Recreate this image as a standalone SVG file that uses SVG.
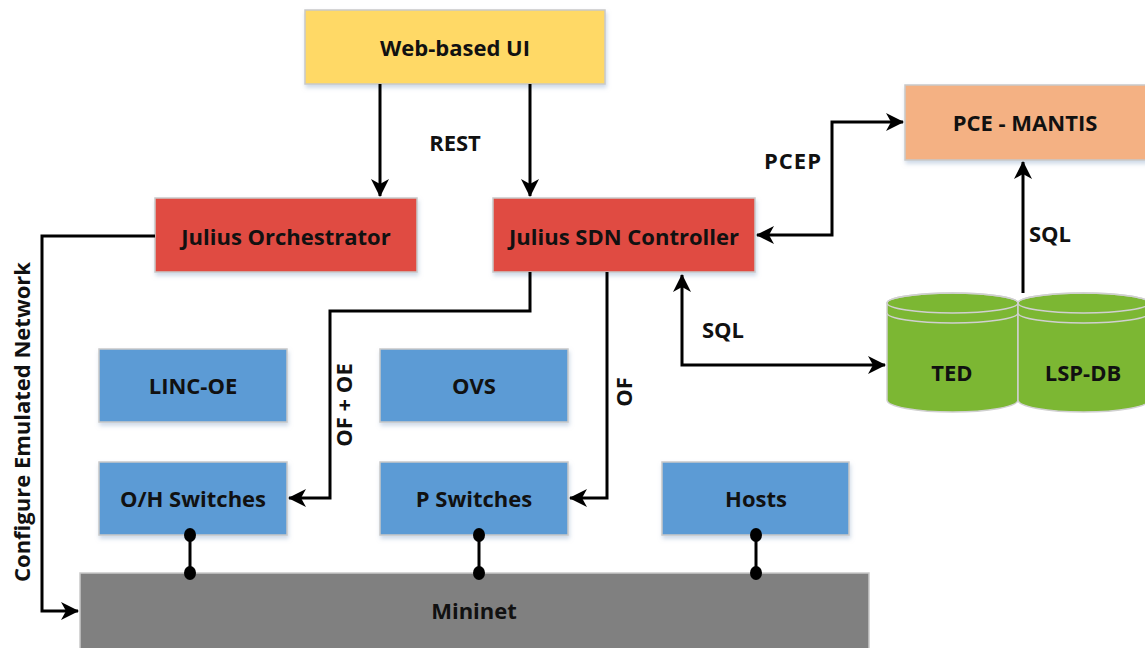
<svg xmlns="http://www.w3.org/2000/svg" width="1145" height="648" viewBox="0 0 1145 648">
<defs>
<style>
.box{stroke:#C9C9C9;stroke-width:1.5}
.yellow{fill:#FFD966}
.red{fill:#E04C42}
.orange{fill:#F4B183}
.blue{fill:#5B9BD5}
.gray{fill:#808080}
.green{fill:#7CB733;stroke:#D0D0D0;stroke-width:1.5}
.t{font-family:"Open Sans","Liberation Sans",Arial,sans-serif;font-weight:bold;font-size:22px;fill:#111;text-anchor:middle;dominant-baseline:central}
.c{fill:none;stroke:#000;stroke-width:3}
</style>
<marker id="ah" viewBox="0 0 18 18" refX="17" refY="9" markerWidth="18" markerHeight="18" markerUnits="userSpaceOnUse" orient="auto-start-reverse">
<path d="M0,0 L18,9 L0,18 L5,9 Z" fill="#000"/>
</marker>
<filter id="sh" x="-5%" y="-5%" width="115%" height="125%">
<feDropShadow dx="1" dy="3" stdDeviation="2" flood-color="#9DB4D0" flood-opacity="0.5"/>
</filter>
</defs>
<rect width="1145" height="648" fill="#fff"/>

<g id="web-ui"><rect class="box yellow" x="305" y="10" width="300" height="74" filter="url(#sh)"/><text class="t" x="455" y="47">Web-based UI</text></g>
<g id="orchestrator"><rect class="box red" x="155" y="198" width="262" height="74" filter="url(#sh)"/><text class="t" x="286" y="236">Julius Orchestrator</text></g>
<g id="sdn-controller"><rect class="box red" x="493" y="198" width="262" height="74" filter="url(#sh)"/><text class="t" x="624" y="236">Julius SDN Controller</text></g>
<g id="pce"><rect class="box orange" x="905" y="85" width="245" height="75" filter="url(#sh)"/><text class="t" x="1025" y="122">PCE - MANTIS</text></g>
<g id="linc-oe"><rect class="box blue" x="99" y="349" width="188" height="73" filter="url(#sh)"/><text class="t" x="193" y="385">LINC-OE</text></g>
<g id="ovs"><rect class="box blue" x="380" y="349" width="188" height="73" filter="url(#sh)"/><text class="t" x="474" y="385">OVS</text></g>
<g id="oh-switches"><rect class="box blue" x="99" y="462" width="188" height="73" filter="url(#sh)"/><text class="t" x="193" y="498">O/H Switches</text></g>
<g id="p-switches"><rect class="box blue" x="380" y="462" width="188" height="73" filter="url(#sh)"/><text class="t" x="474" y="498">P Switches</text></g>
<g id="hosts"><rect class="box blue" x="662" y="462" width="187" height="73" filter="url(#sh)"/><text class="t" x="756" y="498">Hosts</text></g>
<g id="mininet"><rect class="box gray" x="80" y="573" width="789" height="80"/><text class="t" x="474" y="610">Mininet</text></g>

<g id="ted">
<path class="green" d="M887,303 V400 A65.5,12 0 0 0 1018,400 V303 A65.5,10 0 0 0 887,303 Z"/>
<ellipse cx="952.5" cy="303" rx="65.5" ry="10" fill="none" stroke="#D0D0D0" stroke-width="1.5"/>
<path d="M887,313 A65.5,10 0 0 0 1018,313" fill="none" stroke="#D0D0D0" stroke-width="1.5"/>
<text class="t" x="952" y="372">TED</text>
</g>
<g id="lsp-db">
<path class="green" d="M1018,303 V400 A65.5,12 0 0 0 1149,400 V303 A65.5,10 0 0 0 1018,303 Z"/>
<ellipse cx="1083.5" cy="303" rx="65.5" ry="10" fill="none" stroke="#D0D0D0" stroke-width="1.5"/>
<path d="M1018,313 A65.5,10 0 0 0 1149,313" fill="none" stroke="#D0D0D0" stroke-width="1.5"/>
<text class="t" x="1083" y="372">LSP-DB</text>
</g>

<g id="connectors">
<path class="c" d="M380,84 V196" marker-end="url(#ah)"/>
<path class="c" d="M530,84 V196" marker-end="url(#ah)"/>
<path class="c" d="M155,236 H42 V611 H78" marker-end="url(#ah)"/>
<path class="c" d="M530,272 V311 H330 V498 H289" marker-end="url(#ah)"/>
<path class="c" d="M607,272 V498 H570" marker-end="url(#ah)"/>
<path class="c" d="M757,235 H832 V122 H903" marker-start="url(#ah)" marker-end="url(#ah)"/>
<path class="c" d="M682,275 V365 H885" marker-start="url(#ah)" marker-end="url(#ah)"/>
<path class="c" d="M1023,293 V162" marker-end="url(#ah)"/>
<g stroke="#000" stroke-width="3">
<line x1="190" y1="535" x2="190" y2="573"/>
<line x1="479" y1="535" x2="479" y2="573"/>
<line x1="756" y1="535" x2="756" y2="573"/>
</g>
<g fill="#000">
<ellipse cx="190" cy="535" rx="6" ry="7"/><ellipse cx="190" cy="573" rx="6" ry="7"/>
<ellipse cx="479" cy="535" rx="6" ry="7"/><ellipse cx="479" cy="573" rx="6" ry="7"/>
<ellipse cx="756" cy="535" rx="6" ry="7"/><ellipse cx="756" cy="573" rx="6" ry="7"/>
</g>
<text class="t" x="455" y="142">REST</text>
<text class="t" x="793" y="160" letter-spacing="1">PCEP</text>
<text class="t" x="723" y="329">SQL</text>
<text class="t" x="1050" y="233">SQL</text>
<text class="t" transform="translate(623,392) rotate(-90)">OF</text>
<text class="t" transform="translate(343,405) rotate(-90)">OF + OE</text>
<text class="t" transform="translate(21,422) rotate(-90)">Configure Emulated Network</text>
</g>
</svg>
